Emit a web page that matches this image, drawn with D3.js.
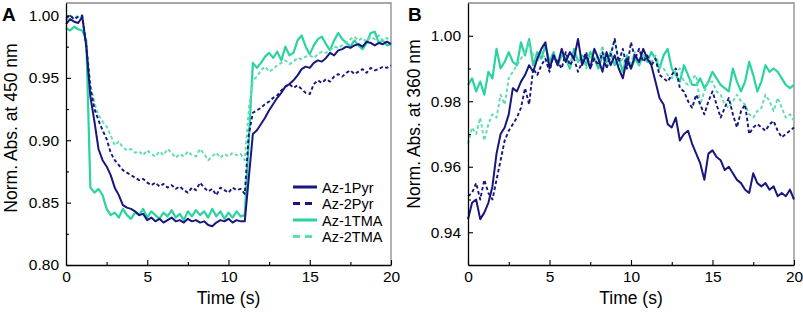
<!DOCTYPE html>
<html>
<head>
<meta charset="utf-8">
<script src="https://cdn.jsdelivr.net/npm/d3@7"></script>
<style>
  body { margin: 0; background: #fff; }
  text { font-family: "Liberation Sans", Arial, sans-serif; fill: #000; }
</style>
</head>
<body>
<div id="d3"></div>
<script>
// sampling grid: every 0.25 s from 0 to 20 s
var time = d3.range(0, 20.001, 0.25);

// panel A, absorbance at 450 nm
var a1Pyr = [
  0.993, 0.997, 0.995, 0.994,  0.999, 0.975, 0.935, 0.915,
  0.893, 0.884, 0.879, 0.872,  0.862, 0.856, 0.848, 0.846,
  0.845, 0.843, 0.840, 0.841,  0.836, 0.838, 0.835, 0.837,
  0.834, 0.836, 0.838, 0.835,  0.836, 0.834, 0.837, 0.835,
  0.836, 0.834, 0.835, 0.832,  0.831, 0.834, 0.836, 0.835,
  0.837, 0.834, 0.836, 0.835,  0.835, 0.870, 0.905, 0.908,
  0.913, 0.918, 0.924, 0.929,  0.934, 0.938, 0.943, 0.945,
  0.948, 0.952, 0.957, 0.959,  0.958, 0.962, 0.964, 0.963,
  0.966, 0.970, 0.968, 0.972,  0.973, 0.975, 0.974, 0.976,
  0.977, 0.975, 0.979, 0.978,  0.976, 0.978, 0.977, 0.979,
  0.977
];
var a2Pyr = [
  0.998, 1.000, 0.997, 0.999,  1.000, 0.975, 0.942, 0.925,
  0.916, 0.908, 0.901, 0.890,  0.884, 0.880, 0.876, 0.874,
  0.872, 0.870, 0.868, 0.869,  0.866, 0.864, 0.866, 0.863,
  0.865, 0.862, 0.864, 0.861,  0.863, 0.860, 0.858, 0.862,
  0.860, 0.866, 0.862, 0.859,  0.861, 0.856, 0.862, 0.860,
  0.858, 0.862, 0.860, 0.861,  0.857, 0.905, 0.922, 0.924,
  0.926, 0.929, 0.931, 0.934,  0.936, 0.940, 0.943, 0.945,
  0.942, 0.944, 0.941, 0.938,  0.937, 0.945, 0.948, 0.946,
  0.949, 0.947, 0.951, 0.953,  0.951, 0.954, 0.956, 0.953,
  0.955, 0.957, 0.954, 0.958,  0.956, 0.957, 0.959, 0.958,
  0.960
];
var a1TMA = [
  0.990, 0.988, 0.991, 0.989,  0.988, 0.980, 0.862, 0.858,
  0.861, 0.856, 0.845, 0.840,  0.842, 0.838, 0.845, 0.840,
  0.837, 0.842, 0.840, 0.845,  0.838, 0.843, 0.840, 0.837,
  0.842, 0.839, 0.844, 0.838,  0.841, 0.836, 0.843, 0.839,
  0.844, 0.840, 0.843, 0.838,  0.845, 0.839, 0.843, 0.837,
  0.842, 0.838, 0.843, 0.839,  0.840, 0.900, 0.962, 0.958,
  0.962, 0.967, 0.970, 0.966,  0.971, 0.964, 0.975, 0.968,
  0.970, 0.980, 0.984, 0.975,  0.969, 0.976, 0.981, 0.983,
  0.977, 0.972, 0.980, 0.986,  0.981, 0.978, 0.975, 0.980,
  0.976, 0.973, 0.978, 0.986,  0.987, 0.978, 0.980, 0.976,
  0.977
];
var a2TMA = [
  0.996, 1.000, 0.998, 1.000,  0.998, 0.978, 0.945, 0.930,
  0.920, 0.915, 0.911, 0.904,  0.896, 0.899, 0.894, 0.892,
  0.893, 0.890, 0.891, 0.888,  0.892, 0.889, 0.887, 0.891,
  0.888, 0.893, 0.890, 0.886,  0.889, 0.887, 0.891, 0.888,
  0.887, 0.893, 0.889, 0.884,  0.887, 0.890, 0.886, 0.889,
  0.887, 0.890, 0.888, 0.889,  0.884, 0.925, 0.948, 0.951,
  0.956, 0.959, 0.955, 0.957,  0.960, 0.962, 0.964, 0.961,
  0.963, 0.966, 0.965, 0.967,  0.968, 0.966, 0.969, 0.971,
  0.970, 0.972, 0.975, 0.974,  0.976, 0.978, 0.981, 0.983,
  0.980, 0.982, 0.979, 0.983,  0.981, 0.984, 0.980, 0.982,
  0.978
];

// panel B, absorbance at 360 nm
var b1Pyr = [
  0.944, 0.949, 0.950, 0.944,  0.946, 0.949, 0.954, 0.964,
  0.970, 0.972, 0.976, 0.984,  0.983, 0.986, 0.988, 0.991,
  0.989, 0.993, 0.996, 0.998,  0.990, 0.994, 0.991, 0.996,
  0.992, 0.995, 0.993, 0.999,  0.991, 0.994, 0.990, 0.996,
  0.993, 0.989, 0.995, 0.991,  0.994, 0.990, 0.987, 0.993,
  0.990, 0.994, 0.992, 0.996,  0.993, 0.991, 0.986, 0.981,
  0.979, 0.973, 0.972, 0.975,  0.968, 0.970, 0.971, 0.967,
  0.964, 0.961, 0.956, 0.964,  0.965, 0.963, 0.962, 0.959,
  0.960, 0.958, 0.956, 0.955,  0.953, 0.952, 0.958, 0.955,
  0.954, 0.955, 0.953, 0.954,  0.951, 0.952, 0.951, 0.953,
  0.950
];
var b2Pyr = [
  0.951, 0.952, 0.955, 0.950,  0.956, 0.952, 0.950, 0.956,
  0.962, 0.968, 0.971, 0.973,  0.975, 0.978, 0.984, 0.979,
  0.990, 0.988, 0.991, 0.993,  0.989, 0.994, 0.992, 0.990,
  0.995, 0.991, 0.993, 0.989,  0.992, 0.995, 0.990, 0.993,
  0.991, 0.995, 0.990, 0.994,  0.999, 0.992, 0.996, 0.990,
  0.998, 0.993, 0.996, 0.992,  0.994, 0.991, 0.993, 0.988,
  0.987, 0.986, 0.988, 0.990,  0.984, 0.983, 0.980, 0.978,
  0.982, 0.979, 0.976, 0.980,  0.983, 0.979, 0.975, 0.978,
  0.981, 0.976, 0.972, 0.977,  0.979, 0.970, 0.972, 0.973,
  0.972, 0.971, 0.973, 0.974,  0.971, 0.969, 0.970, 0.971,
  0.972
];
var b1TMA = [
  0.985, 0.987, 0.983, 0.986,  0.982, 0.989, 0.987, 0.996,
  0.990, 0.992, 0.995, 0.992,  0.991, 0.998, 0.994, 0.999,
  0.991, 0.995, 0.993, 0.997,  0.992, 0.995, 0.991, 0.994,
  0.993, 0.990, 0.996, 0.992,  0.994, 0.991, 0.995, 0.993,
  0.990, 0.994, 0.992, 0.995,  0.991, 0.993, 0.989, 0.994,
  0.990, 0.993, 0.991, 0.994,  0.992, 0.995, 0.993, 0.990,
  0.994, 0.996, 0.990, 0.988,  0.986, 0.991, 0.988, 0.985,
  0.985, 0.987, 0.984, 0.986,  0.989, 0.987, 0.985, 0.984,
  0.983, 0.990, 0.986, 0.983,  0.986, 0.992, 0.988, 0.983,
  0.986, 0.991, 0.989, 0.990,  0.989, 0.987, 0.985, 0.984,
  0.985
];
var b2TMA = [
  0.967, 0.972, 0.970, 0.975,  0.968, 0.973, 0.976, 0.975,
  0.982, 0.979, 0.987, 0.989,  0.991, 0.993, 0.995, 0.998,
  0.994, 0.992, 0.995, 0.993,  0.991, 0.994, 0.992, 0.995,
  0.993, 0.991, 0.995, 0.992,  0.994, 0.990, 0.993, 0.996,
  0.992, 0.997, 0.990, 0.994,  0.999, 0.991, 0.993, 0.990,
  0.992, 0.995, 0.991, 0.994,  0.993, 0.992, 0.994, 0.991,
  0.990, 0.988, 0.987, 0.989,  0.990, 0.986, 0.985, 0.987,
  0.988, 0.979, 0.983, 0.986,  0.986, 0.983, 0.982, 0.979,
  0.978, 0.980, 0.982, 0.980,  0.979, 0.976, 0.975, 0.977,
  0.978, 0.982, 0.980, 0.977,  0.981, 0.978, 0.975, 0.976,
  0.974
];

var seriesNames = ["Az-1Pyr", "Az-2Pyr", "Az-1TMA", "Az-2TMA"];
var xTicks = [0, 5, 10, 15, 20];

var navy = "#17177e", teal = "#2ad3a0", lightTeal = "#5edcb4";
var styles = [
  { color: navy, dash: null, width: 2 },
  { color: navy, dash: "3.5,2.5", width: 1.9 },
  { color: teal, dash: null, width: 2.2 },
  { color: lightTeal, dash: "3.5,2.5", width: 1.9 }
];

var svg = d3.select("#d3").append("svg").attr("width", 803).attr("height", 314);

function drawPanel(opt) {
  var m = opt.box;
  var x = d3.scaleLinear().domain([0, 20]).range([m.left, m.right]);
  var y = d3.scaleLinear().domain(opt.yDomain).range([m.bottom, m.top]);

  var g = svg.append("g");

  // frame (top and right) in grey
  g.append("path")
    .attr("d", "M" + x(0) + "," + y(opt.yDomain[1]) + "H" + x(20) + "V" + y(opt.yDomain[0]))
    .attr("fill", "none").attr("stroke", "#8a8a8a").attr("stroke-width", 1.3);

  var line = d3.line()
    .x(function(d, i){ return x(time[i]); })
    .y(function(d){ return y(d); });

  // draw back to front: TMA first so Pyr traces sit on top where they overlap
  [2, 3, 0, 1].forEach(function(k){
    g.append("path")
      .attr("d", line(opt.data[k]))
      .attr("fill", "none")
      .attr("stroke", styles[k].color)
      .attr("stroke-width", styles[k].width)
      .attr("stroke-dasharray", styles[k].dash)
      .attr("stroke-linejoin", "round");
  });

  // x axis, ticks inside
  var xAxis = d3.axisBottom(x).tickValues(xTicks).tickSizeInner(-5).tickSizeOuter(0).tickPadding(6);
  var xMinor = d3.axisBottom(x).tickValues([2.5, 7.5, 12.5, 17.5]).tickSizeInner(-3).tickSizeOuter(0).tickFormat("");
  g.append("g").attr("transform", "translate(0," + m.bottom + ")").call(xAxis);
  g.append("g").attr("transform", "translate(0," + m.bottom + ")").call(xMinor).select(".domain").remove();

  var yAxis = d3.axisLeft(y).tickValues(opt.yTicks).tickSizeInner(-5).tickSizeOuter(0).tickPadding(7)
    .tickFormat(d3.format(".2f"));
  var yMinor = d3.axisLeft(y).tickValues(opt.yMinor).tickSizeInner(-3).tickSizeOuter(0).tickFormat("");
  g.append("g").attr("transform", "translate(" + m.left + ",0)").call(yAxis);
  g.append("g").attr("transform", "translate(" + m.left + ",0)").call(yMinor).select(".domain").remove();

  g.selectAll(".domain").attr("stroke", "#000").attr("stroke-width", 1.3);
  g.selectAll(".tick line").attr("stroke", "#000").attr("stroke-width", 1.1);
  g.selectAll(".tick text").attr("font-size", 15.5).attr("font-family", "Liberation Sans, Arial, sans-serif").attr("fill", "#000");

  g.append("text")
    .attr("x", (m.left + m.right) / 2).attr("y", 304)
    .attr("text-anchor", "middle").attr("font-size", 17.5)
    .text("Time (s)");

  g.append("text")
    .attr("transform", "translate(" + opt.labelX + "," + opt.labelY + ") rotate(-90)")
    .attr("text-anchor", "middle").attr("font-size", 17.5)
    .text(opt.yLabel);

  g.append("text")
    .attr("x", opt.letterX).attr("y", 21)
    .attr("font-size", 19).attr("font-weight", "bold")
    .text(opt.letter);

  return { x: x, y: y, g: g };
}

var pA = drawPanel({
  box: { left: 66, right: 391, top: 3, bottom: 265 },
  yDomain: [0.80, 1.01],
  yTicks: [0.80, 0.85, 0.90, 0.95, 1.00],
  yMinor: [0.825, 0.875, 0.925, 0.975],
  data: [a1Pyr, a2Pyr, a1TMA, a2TMA],
  yLabel: "Norm. Abs. at 450 nm",
  labelX: 17, labelY: 128,
  letter: "A", letterX: 2
});

var pB = drawPanel({
  box: { left: 468, right: 794, top: 3, bottom: 265 },
  yDomain: [0.93, 1.01],
  yTicks: [0.94, 0.96, 0.98, 1.00],
  yMinor: [0.95, 0.97, 0.99],
  data: [b1Pyr, b2Pyr, b1TMA, b2TMA],
  yLabel: "Norm. Abs. at 360 nm",
  labelX: 420, labelY: 124,
  letter: "B", letterX: 408
});

// legend in panel A
var legend = pA.g.append("g").attr("transform", "translate(293,187)");
seriesNames.forEach(function(name, i){
  var row = legend.append("g").attr("transform", "translate(0," + (i * 16.5) + ")");
  row.append("line")
    .attr("x1", 0).attr("x2", 24).attr("y1", 0).attr("y2", 0)
    .attr("stroke", styles[i].color).attr("stroke-width", 3)
    .attr("stroke-dasharray", styles[i].dash ? "7,5" : null);
  row.append("text")
    .attr("x", 29).attr("y", 5.5)
    .attr("font-size", 14.5)
    .text(name);
});
</script>
</body>
</html>
